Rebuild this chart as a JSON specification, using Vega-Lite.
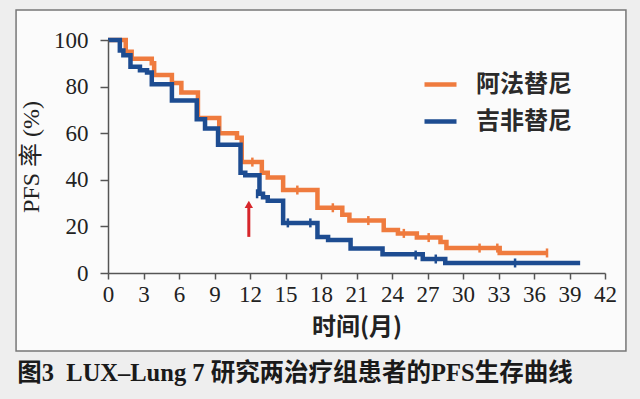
{
  "$schema": "https://vega.github.io/schema/vega-lite/v6.json",
  "width": 497,
  "height": 233,
  "autosize": {"type": "none"},
  "padding": {"left": 108, "top": 40, "right": 35, "bottom": 126},
  "background": "#eeeeee",
  "config": {
    "view": {"stroke": null},
    "axis": {
      "grid": false,
      "labelOverlap": false,
      "domainColor": "#555555", "domainWidth": 1.5,
      "tickColor": "#555555", "tickWidth": 1.5,
      "labelFont": "Liberation Serif", "labelFontSize": 23, "labelColor": "#222222",
      "titleColor": "#222222"
    }
  },
  "title": {
    "text": "图3\u2002LUX–Lung 7 研究两治疗组患者的PFS生存曲线",
    "orient": "bottom",
    "anchor": "start",
    "frame": "bounds",
    "offset": 10,
    "dx": 2,
    "font": "Liberation Serif, Noto Sans CJK SC",
    "fontSize": 24.5,
    "fontWeight": "bold",
    "color": "#1a1a1a",
    "zindex": 1
  },
  "datasets": {
    "curves": [
      {"group": "阿法替尼", "t": 0, "v": 100},
      {"group": "阿法替尼", "t": 1.5, "v": 95},
      {"group": "阿法替尼", "t": 2.0, "v": 92},
      {"group": "阿法替尼", "t": 3.7, "v": 90},
      {"group": "阿法替尼", "t": 3.9, "v": 85},
      {"group": "阿法替尼", "t": 5.4, "v": 81.5},
      {"group": "阿法替尼", "t": 6.2, "v": 77.5},
      {"group": "阿法替尼", "t": 7.6, "v": 66.5},
      {"group": "阿法替尼", "t": 9.4, "v": 60},
      {"group": "阿法替尼", "t": 10.9, "v": 58},
      {"group": "阿法替尼", "t": 11.3, "v": 47.6},
      {"group": "阿法替尼", "t": 13.0, "v": 43},
      {"group": "阿法替尼", "t": 13.5, "v": 41},
      {"group": "阿法替尼", "t": 14.8, "v": 35.6},
      {"group": "阿法替尼", "t": 17.7, "v": 28},
      {"group": "阿法替尼", "t": 19.8, "v": 25},
      {"group": "阿法替尼", "t": 20.4, "v": 22.5},
      {"group": "阿法替尼", "t": 23.3, "v": 18.5},
      {"group": "阿法替尼", "t": 24.5, "v": 17},
      {"group": "阿法替尼", "t": 26.1, "v": 15.2},
      {"group": "阿法替尼", "t": 28.1, "v": 13.3},
      {"group": "阿法替尼", "t": 28.6, "v": 10.7},
      {"group": "阿法替尼", "t": 33.1, "v": 8.6},
      {"group": "阿法替尼", "t": 37.1, "v": 8.6},
      {"group": "吉非替尼", "t": 0, "v": 100},
      {"group": "吉非替尼", "t": 1.0, "v": 95.5},
      {"group": "吉非替尼", "t": 1.3, "v": 93.5},
      {"group": "吉非替尼", "t": 1.9, "v": 88.5},
      {"group": "吉非替尼", "t": 2.7, "v": 87},
      {"group": "吉非替尼", "t": 3.3, "v": 86},
      {"group": "吉非替尼", "t": 3.7, "v": 81},
      {"group": "吉非替尼", "t": 5.4, "v": 74},
      {"group": "吉非替尼", "t": 7.5, "v": 66},
      {"group": "吉非替尼", "t": 8.2, "v": 62},
      {"group": "吉非替尼", "t": 9.3, "v": 55},
      {"group": "吉非替尼", "t": 11.2, "v": 43},
      {"group": "吉非替尼", "t": 11.6, "v": 42},
      {"group": "吉非替尼", "t": 12.8, "v": 34},
      {"group": "吉非替尼", "t": 13.1, "v": 32.5},
      {"group": "吉非替尼", "t": 13.5, "v": 31},
      {"group": "吉非替尼", "t": 14.8, "v": 21.5},
      {"group": "吉非替尼", "t": 17.7, "v": 15.5},
      {"group": "吉非替尼", "t": 18.6, "v": 14.2},
      {"group": "吉非替尼", "t": 20.5, "v": 10.5},
      {"group": "吉非替尼", "t": 23.2, "v": 8},
      {"group": "吉非替尼", "t": 26.6, "v": 6},
      {"group": "吉非替尼", "t": 28.5, "v": 4.3},
      {"group": "吉非替尼", "t": 39.9, "v": 4.3}
    ],
    "censor": [
      {"group": "阿法替尼", "t": 12.2, "v": 47.6},
      {"group": "阿法替尼", "t": 16.0, "v": 35.6},
      {"group": "阿法替尼", "t": 19.0, "v": 28},
      {"group": "阿法替尼", "t": 22.0, "v": 22.5},
      {"group": "阿法替尼", "t": 25.0, "v": 17},
      {"group": "阿法替尼", "t": 27.1, "v": 15.2},
      {"group": "阿法替尼", "t": 31.4, "v": 10.7},
      {"group": "阿法替尼", "t": 32.9, "v": 10.7},
      {"group": "阿法替尼", "t": 37.1, "v": 8.6},
      {"group": "吉非替尼", "t": 12.6, "v": 34},
      {"group": "吉非替尼", "t": 15.2, "v": 21.5},
      {"group": "吉非替尼", "t": 17.1, "v": 21.5},
      {"group": "吉非替尼", "t": 26.0, "v": 7.7},
      {"group": "吉非替尼", "t": 27.7, "v": 6},
      {"group": "吉非替尼", "t": 34.4, "v": 4.3}
    ],
    "arrow": [
      {"t": 11.9, "v0": 15.5, "v1": 28, "vh": 29.5}
    ]
  },
  "layer": [
    {
      "data": {"values": [{}]},
      "mark": {"type": "rect", "fill": "#fbfbfb", "stroke": "#777777", "strokeWidth": 1.5},
      "encoding": {
        "x": {
          "datum": -7.77, "type": "quantitative",
          "scale": {"domain": [0, 42], "nice": false},
          "axis": {
            "values": [0, 3, 6, 9, 12, 15, 18, 21, 24, 27, 30, 33, 36, 39, 42],
            "tickCount": 30,
            "title": "时间(月)",
            "zindex": 1,
            "labelFlush": false,
            "labelOverlap": false,
            "tickSize": 6,
            "labelPadding": 4,
            "titleFont": "Noto Sans CJK SC", "titleFontSize": 24, "titleFontWeight": "bold",
            "titlePadding": 9
          }
        },
        "x2": {"datum": 43.77},
        "y": {
          "datum": 112.9, "type": "quantitative",
          "scale": {"domain": [0, 100], "nice": false},
          "axis": {
            "values": [0, 20, 40, 60, 80, 100],
            "tickCount": 20,
            "title": "PFS 率 (%)",
            "zindex": 1,
            "labelOverlap": false,
            "tickSize": 8,
            "labelPadding": 12,
            "titleFont": "Liberation Serif, Noto Sans CJK SC", "titleFontSize": 24, "titleFontWeight": "normal",
            "titlePadding": 10
          }
        },
        "y2": {"datum": -33.5}
      }
    },
    {
      "data": {"name": "curves"},
      "mark": {"type": "line", "interpolate": "step-after", "strokeWidth": 4.5, "strokeJoin": "miter", "opacity": 1},
      "encoding": {
        "x": {
          "field": "t", "type": "quantitative",
          "axis": {
            "values": [0, 3, 6, 9, 12, 15, 18, 21, 24, 27, 30, 33, 36, 39, 42],
            "tickCount": 30,
            "title": "时间(月)",
            "zindex": 1,
            "labelFlush": false,
            "labelOverlap": false,
            "tickSize": 6,
            "labelPadding": 4,
            "titleFont": "Noto Sans CJK SC", "titleFontSize": 24, "titleFontWeight": "bold",
            "titlePadding": 9
          }
        },
        "y": {
          "field": "v", "type": "quantitative",
          "axis": {
            "values": [0, 20, 40, 60, 80, 100],
            "tickCount": 20,
            "title": "PFS 率 (%)",
            "zindex": 1,
            "labelOverlap": false,
            "tickSize": 8,
            "labelPadding": 12,
            "titleFont": "Liberation Serif, Noto Sans CJK SC", "titleFontSize": 24, "titleFontWeight": "normal",
            "titlePadding": 10
          }
        },
        "color": {
          "field": "group", "type": "nominal",
          "scale": {"domain": ["阿法替尼", "吉非替尼"], "range": ["#ef7b3e", "#1d4c91"]},
          "legend": {
            "orient": "none", "legendX": 314, "legendY": 26,
            "title": null, "symbolType": "stroke", "symbolSize": 1024, "symbolStrokeWidth": 4.5,
            "symbolOpacity": 1,
            "labelFont": "Noto Sans CJK SC", "labelFontSize": 24, "labelFontWeight": "bold",
            "labelColor": "#2a2a2a", "labelOffset": 17, "rowPadding": 6, "padding": 0, "zindex": 1
          }
        }
      }
    },
    {
      "data": {"name": "censor"},
      "mark": {"type": "tick", "orient": "vertical", "size": 9, "thickness": 2.5, "opacity": 1},
      "encoding": {
        "x": {"field": "t", "type": "quantitative"},
        "y": {"field": "v", "type": "quantitative"},
        "color": {"field": "group", "type": "nominal"}
      }
    },
    {
      "data": {"name": "arrow"},
      "mark": {"type": "rule", "color": "#d7262b", "strokeWidth": 3},
      "encoding": {
        "x": {"field": "t", "type": "quantitative"},
        "y": {"field": "v0", "type": "quantitative"},
        "y2": {"field": "v1"}
      }
    },
    {
      "data": {"name": "arrow"},
      "mark": {"type": "point", "shape": "triangle-up", "filled": true, "color": "#d7262b", "size": 70, "opacity": 1},
      "encoding": {
        "x": {"field": "t", "type": "quantitative"},
        "y": {"field": "vh", "type": "quantitative"}
      }
    }
  ]
}
